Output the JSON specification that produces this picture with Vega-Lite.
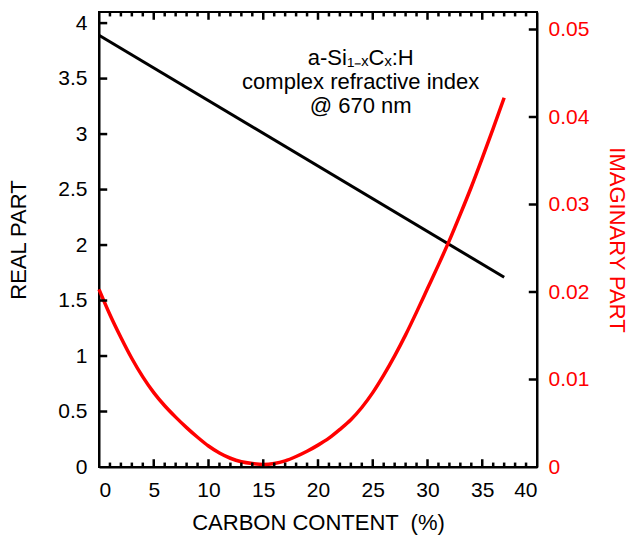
{
  "$schema": "https://vega.github.io/schema/vega-lite/v6.json",
  "width": 438,
  "height": 455,
  "autosize": {"type": "none"},
  "padding": {"left": 99, "top": 12, "right": 93, "bottom": 70},
  "background": "white",
  "datasets": {
    "real": [
      {"carbon": 0, "real": 3.89},
      {"carbon": 37, "real": 1.71}
    ],
    "imag": [
      {"carbon": 0, "imag": 0.0203},
      {"carbon": 1, "imag": 0.0174},
      {"carbon": 2, "imag": 0.0148},
      {"carbon": 3, "imag": 0.0124},
      {"carbon": 4, "imag": 0.0103},
      {"carbon": 5, "imag": 0.0085},
      {"carbon": 6, "imag": 0.0070},
      {"carbon": 7, "imag": 0.0057},
      {"carbon": 8, "imag": 0.0045},
      {"carbon": 9, "imag": 0.0034},
      {"carbon": 10, "imag": 0.0024},
      {"carbon": 11, "imag": 0.0016},
      {"carbon": 12, "imag": 0.0010},
      {"carbon": 13, "imag": 0.0006},
      {"carbon": 14, "imag": 0.0004},
      {"carbon": 15, "imag": 0.0003},
      {"carbon": 16, "imag": 0.0004},
      {"carbon": 17, "imag": 0.0007},
      {"carbon": 18, "imag": 0.0012},
      {"carbon": 19, "imag": 0.0018},
      {"carbon": 20, "imag": 0.0025},
      {"carbon": 21, "imag": 0.0033},
      {"carbon": 22, "imag": 0.0043},
      {"carbon": 23, "imag": 0.0054},
      {"carbon": 24, "imag": 0.0068},
      {"carbon": 25, "imag": 0.0085},
      {"carbon": 26, "imag": 0.0105},
      {"carbon": 27, "imag": 0.0127},
      {"carbon": 28, "imag": 0.0151},
      {"carbon": 29, "imag": 0.0177},
      {"carbon": 30, "imag": 0.0204},
      {"carbon": 31, "imag": 0.0231},
      {"carbon": 32, "imag": 0.0259},
      {"carbon": 33, "imag": 0.0289},
      {"carbon": 34, "imag": 0.0320},
      {"carbon": 35, "imag": 0.0353},
      {"carbon": 36, "imag": 0.0387},
      {"carbon": 37, "imag": 0.0422}
    ],
    "xmajor": [{"v": 5}, {"v": 10}, {"v": 15}, {"v": 20}, {"v": 25}, {"v": 30}, {"v": 35}],
    "xminor": [{"v": 1}, {"v": 2}, {"v": 3}, {"v": 4}, {"v": 6}, {"v": 7}, {"v": 8}, {"v": 9}, {"v": 11}, {"v": 12}, {"v": 13}, {"v": 14}, {"v": 16}, {"v": 17}, {"v": 18}, {"v": 19}, {"v": 21}, {"v": 22}, {"v": 23}, {"v": 24}, {"v": 26}, {"v": 27}, {"v": 28}, {"v": 29}, {"v": 31}, {"v": 32}, {"v": 33}, {"v": 34}, {"v": 36}, {"v": 37}, {"v": 38}, {"v": 39}],
    "yleft": [{"v": 0.5}, {"v": 1}, {"v": 1.5}, {"v": 2}, {"v": 2.5}, {"v": 3}, {"v": 3.5}, {"v": 4}],
    "yright": [{"v": 0.01}, {"v": 0.02}, {"v": 0.03}, {"v": 0.04}, {"v": 0.05}]
  },
  "layer": [
    {
      "data": {"name": "real"},
      "mark": {"type": "line", "color": "black", "strokeWidth": 3},
      "encoding": {
        "x": {
          "field": "carbon", "type": "quantitative",
          "scale": {"domain": [0, 40], "nice": false, "zero": false},
          "axis": {
            "orient": "bottom",
            "values": [0, 5, 10, 15, 20, 25, 30, 35, 40],
            "ticks": false,
            "labelPadding": 12,
            "title": "CARBON CONTENT \u00a0(%)",
            "titlePadding": 12
          }
        },
        "y": {
          "field": "real", "type": "quantitative",
          "scale": {"domain": [0, 4.1], "nice": false, "zero": false},
          "axis": {
            "orient": "left",
            "values": [0, 0.5, 1, 1.5, 2, 2.5, 3, 3.5, 4],
            "format": ".1~f",
            "ticks": false,
            "labelPadding": 12,
            "title": "REAL PART",
            "titlePadding": 27
          }
        }
      }
    },
    {
      "data": {"name": "imag"},
      "mark": {"type": "line", "color": "#ff0000", "strokeWidth": 3.5, "interpolate": "monotone"},
      "encoding": {
        "x": {"field": "carbon", "type": "quantitative", "scale": {"domain": [0, 40], "nice": false, "zero": false}},
        "y": {
          "field": "imag", "type": "quantitative",
          "scale": {"domain": [0, 0.052], "nice": false, "zero": false},
          "axis": {
            "orient": "right",
            "values": [0, 0.01, 0.02, 0.03, 0.04, 0.05],
            "format": ".2~f",
            "ticks": false,
            "labelPadding": 11,
            "labelColor": "#ff0000",
            "titleColor": "#ff0000",
            "title": "IMAGINARY PART",
            "titlePadding": 16
          }
        }
      }
    },
    {
      "data": {"name": "xmajor"},
      "mark": {"type": "rule", "color": "black", "strokeWidth": 2.5},
      "encoding": {
        "x": {"field": "v", "type": "quantitative", "scale": {"domain": [0, 40], "nice": false, "zero": false}},
        "y": {"datum": 0, "type": "quantitative", "scale": {"domain": [0, 4.1], "nice": false, "zero": false}, "axis": null},
        "y2": {"datum": 0.07}
      }
    },
    {
      "data": {"name": "xmajor"},
      "mark": {"type": "rule", "color": "black", "strokeWidth": 2.5},
      "encoding": {
        "x": {"field": "v", "type": "quantitative", "scale": {"domain": [0, 40], "nice": false, "zero": false}},
        "y": {"datum": 4.1, "type": "quantitative", "scale": {"domain": [0, 4.1], "nice": false, "zero": false}, "axis": null},
        "y2": {"datum": 4.03}
      }
    },
    {
      "data": {"name": "xminor"},
      "mark": {"type": "rule", "color": "black", "strokeWidth": 2.5},
      "encoding": {
        "x": {"field": "v", "type": "quantitative", "scale": {"domain": [0, 40], "nice": false, "zero": false}},
        "y": {"datum": 0, "type": "quantitative", "scale": {"domain": [0, 4.1], "nice": false, "zero": false}, "axis": null},
        "y2": {"datum": 0.04}
      }
    },
    {
      "data": {"name": "xminor"},
      "mark": {"type": "rule", "color": "black", "strokeWidth": 2.5},
      "encoding": {
        "x": {"field": "v", "type": "quantitative", "scale": {"domain": [0, 40], "nice": false, "zero": false}},
        "y": {"datum": 4.1, "type": "quantitative", "scale": {"domain": [0, 4.1], "nice": false, "zero": false}, "axis": null},
        "y2": {"datum": 4.06}
      }
    },
    {
      "data": {"name": "yleft"},
      "mark": {"type": "rule", "color": "black", "strokeWidth": 2.5},
      "encoding": {
        "x": {"datum": 0, "type": "quantitative", "scale": {"domain": [0, 40], "nice": false, "zero": false}},
        "x2": {"datum": 0.75},
        "y": {"field": "v", "type": "quantitative", "scale": {"domain": [0, 4.1], "nice": false, "zero": false}, "axis": null}
      }
    },
    {
      "data": {"name": "yright"},
      "mark": {"type": "rule", "color": "black", "strokeWidth": 2.5},
      "encoding": {
        "x": {"datum": 40, "type": "quantitative", "scale": {"domain": [0, 40], "nice": false, "zero": false}},
        "x2": {"datum": 39.25},
        "y": {"field": "v", "type": "quantitative", "scale": {"domain": [0, 0.052], "nice": false, "zero": false}, "axis": null}
      }
    },
    {
      "data": {"values": [{}]},
      "mark": {
        "type": "text",
        "align": "center",
        "baseline": "middle",
        "font": "Liberation Sans",
        "fontSize": 22,
        "lineHeight": 24,
        "color": "black",
        "text": ["a-Si\u2081\u208b\u2093C\u2093:H", "complex refractive index", "@ 670 nm"]
      },
      "encoding": {
        "x": {"datum": 23.9, "type": "quantitative", "scale": {"domain": [0, 40], "nice": false, "zero": false}},
        "y": {"datum": 3.69, "type": "quantitative", "scale": {"domain": [0, 4.1], "nice": false, "zero": false}, "axis": null}
      }
    }
  ],
  "resolve": {
    "scale": {"y": "independent"},
    "axis": {"y": "independent"}
  },
  "config": {
    "view": {"stroke": "black", "strokeWidth": 2},
    "axis": {
      "grid": false,
      "labelFont": "Liberation Sans",
      "titleFont": "Liberation Sans",
      "labelFontSize": 21,
      "titleFontSize": 22,
      "titleFontWeight": "normal",
      "labelColor": "black",
      "titleColor": "black",
      "domainColor": "black",
      "domainWidth": 2,
      "tickColor": "black",
      "tickWidth": 2
    }
  }
}
